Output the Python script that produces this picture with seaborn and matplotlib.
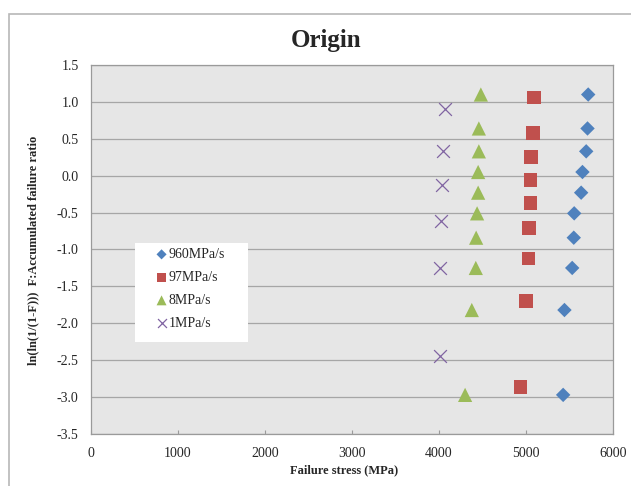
import matplotlib
matplotlib.use("Agg")
import matplotlib.pyplot as plt
from matplotlib.patches import Rectangle
import seaborn as sns
import pandas as pd

# Weibull plot values
rate_labels = ["960MPa/s", "97MPa/s", "8MPa/s", "1MPa/s"]

stress_960 = [5715, 5707, 5692, 5649, 5634, 5554, 5549, 5531, 5442, 5427]
weib_960 = [1.10, 0.64, 0.33, 0.05, -0.23, -0.51, -0.84, -1.25, -1.82, -2.97]

stress_97 = [5092, 5081, 5058, 5050, 5050, 5035, 5027, 5003, 4938]
weib_97 = [1.06, 0.58, 0.25, -0.06, -0.37, -0.71, -1.12, -1.70, -2.86]

stress_8 = [4481, 4458, 4458, 4450, 4450, 4438, 4427, 4423, 4377, 4300]
weib_8 = [1.10, 0.64, 0.33, 0.05, -0.23, -0.51, -0.84, -1.25, -1.82, -2.97]

stress_1 = [4066, 4050, 4035, 4027, 4015, 4008]
weib_1 = [0.91, 0.33, -0.13, -0.62, -1.25, -2.44]

x_ticks = [0, 1000, 2000, 3000, 4000, 5000, 6000]
y_ticks = [-3.5, -3.0, -2.5, -2.0, -1.5, -1.0, -0.5, 0.0, 0.5, 1.0, 1.5]

sns.set_style("white")
plt.rcParams['font.family'] = ['Liberation Serif', 'DejaVu Serif']
plt.rcParams['axes.unicode_minus'] = False

W, H = 631, 486
fig = plt.figure(figsize=(W / 100, H / 100), dpi=100)
ax = fig.add_axes([91 / W, 1 - 434 / H, 522 / W, 369 / H])
ax.set_facecolor('#e6e6e6')

# outer chart border
fig.patches.append(Rectangle((9 / W, -0.1), 1.2, 1 - 14 / H + 0.1,
                             transform=fig.transFigure, fill=False,
                             edgecolor='#b8b8b8', linewidth=1.2))

series = [
    (stress_960, weib_960, 'D', '#4F81BD', 54),
    (stress_97, weib_97, 's', '#C0504D', 95),
    (stress_8, weib_8, '^', '#9BBB59', 105),
    (stress_1, weib_1, 'x', '#8064A2', 85),
]

for (xs, ys, mk, col, size), lab in zip(series, rate_labels):
    df = pd.DataFrame({'stress': xs, 'weib': ys})
    if mk == 'x':
        sns.scatterplot(data=df, x='stress', y='weib', marker=mk, color=col,
                        s=size, linewidth=0.9, legend=False, label=lab,
                        ax=ax, zorder=3)
    else:
        sns.scatterplot(data=df, x='stress', y='weib', marker=mk, color=col,
                        s=size, edgecolor='none', legend=False, label=lab,
                        ax=ax, zorder=3)

ax.set_xlim(0, 6000)
ax.set_ylim(-3.5, 1.5)
ax.set_xticks(x_ticks)
ax.set_yticks(y_ticks)
ax.set_yticklabels([f"{v:.1f}" for v in y_ticks])
ax.yaxis.grid(True, color='#a6a6a6', linewidth=0.9)
ax.xaxis.grid(False)
ax.set_axisbelow(True)
for sp in ax.spines.values():
    sp.set_color('#9a9a9a')
    sp.set_linewidth(0.9)

ax.tick_params(axis='x', direction='in', length=3, width=0.8, color='#9a9a9a',
               labelsize=10, pad=9, bottom=True)
ax.tick_params(axis='y', length=0, labelsize=10, pad=9, left=False)
ax.set_xlabel('')
ax.set_ylabel('')

# legend box
ax.add_patch(Rectangle((44 / 522, 92 / 369), 113 / 522, 99 / 369,
                       transform=ax.transAxes, facecolor='white',
                       edgecolor='none', zorder=4))
leg = ax.legend(loc='upper left', bbox_to_anchor=(65 / 522, 186 / 369),
                frameon=False, fontsize=10, handlelength=0.8,
                handletextpad=0.1, labelspacing=0.72, borderpad=0,
                borderaxespad=0, markerscale=0.7)
leg.set_zorder(5)

fig.text(326 / W, 1 - 40 / H, 'Origin', fontsize=18, fontweight='bold',
         ha='center', va='center')
fig.text(344 / W, 1 - 470 / H, 'Failure stress (MPa)', fontsize=9,
         fontweight='bold', ha='center', va='center')
fig.text(33 / W, 1 - 250 / H,
         'ln(ln(1/(1-F)))  F:Accumulated failure ratio', fontsize=9,
         fontweight='bold', ha='center', va='center', rotation=90)

fig.savefig('out.png', dpi=100)
